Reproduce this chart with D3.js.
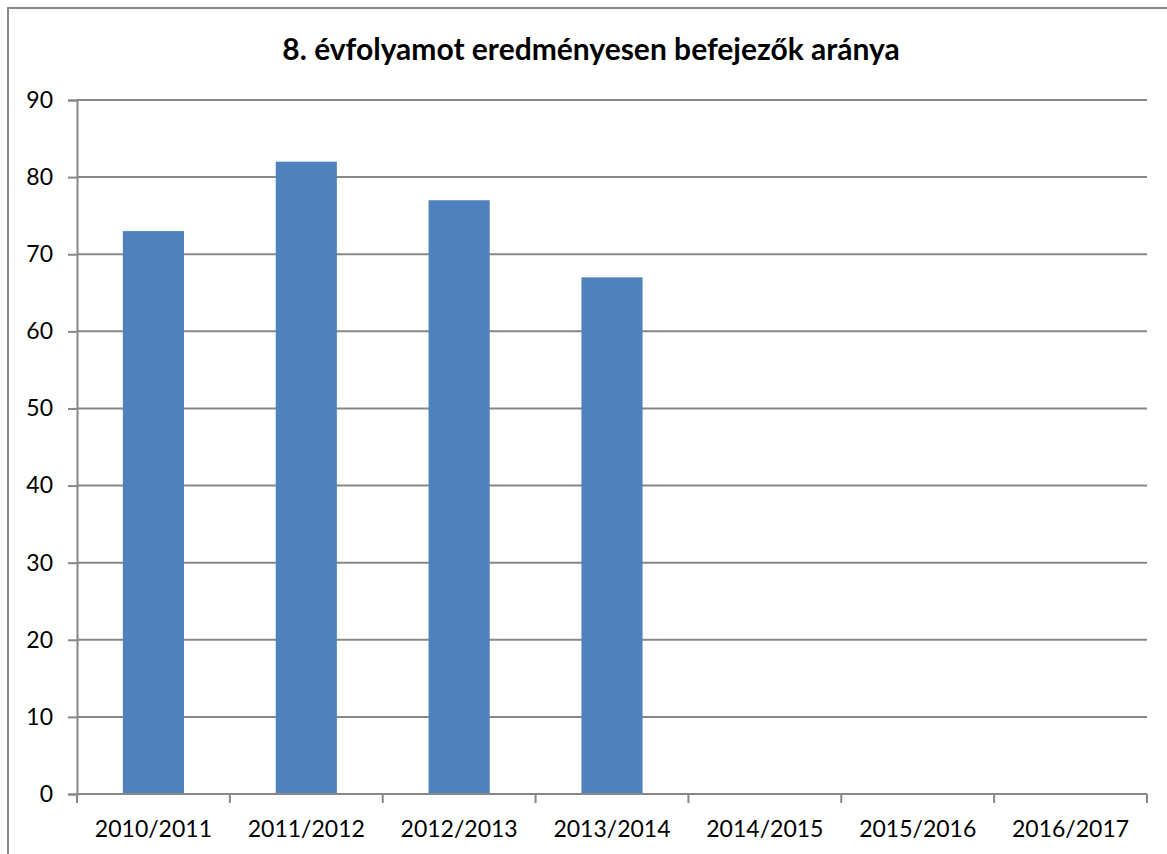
<!DOCTYPE html>
<html>
<head>
<meta charset="utf-8">
<script src="https://cdn.jsdelivr.net/npm/d3@7"></script>
<style>
  body { margin: 0; background: #fff; }
  svg { display: block; }
</style>
</head>
<body>
<svg id="chart"></svg>
<script>
var svgWidth = 1167;
var svgHeight = 854;

var chartTitle = "8. évfolyamot eredményesen befejezők aránya";
var years = ["2010/2011", "2011/2012", "2012/2013", "2013/2014", "2014/2015", "2015/2016", "2016/2017"];
var ratios = [73, 82, 77, 67, null, null, null];
var yTicks = [0, 10, 20, 30, 40, 50, 60, 70, 80, 90];

var data = years.map(function(y, i) { return { year: y, value: ratios[i] }; });

var svg = d3.select("#chart")
    .attr("width", svgWidth)
    .attr("height", svgHeight)
    .style("font-family", "Lato, sans-serif");

// outer chart frame (runs off the right and bottom of the picture)
svg.append("rect")
    .attr("x", 8)
    .attr("y", 8)
    .attr("width", 1200)
    .attr("height", 900)
    .attr("fill", "#fff")
    .attr("stroke", "#8a8a8a")
    .attr("stroke-width", 2);

var plotLeft = 77, plotRight = 1147, plotTop = 100, plotBottom = 794;

var xScale = d3.scaleBand()
    .domain(years)
    .range([plotLeft, plotRight])
    .paddingInner(0.6)
    .paddingOuter(0.3);

var yScale = d3.scaleLinear()
    .domain([0, 90])
    .range([plotBottom, plotTop]);

// gridlines
svg.append("g")
    .selectAll("line")
    .data(yTicks.filter(function(t) { return t > 0; }))
    .enter()
    .append("line")
    .attr("x1", plotLeft)
    .attr("x2", plotRight)
    .attr("y1", d => yScale(d))
    .attr("y2", d => yScale(d))
    .attr("stroke", "#878787")
    .attr("stroke-width", 2);

// bars
svg.append("g")
    .selectAll("rect")
    .data(data.filter(d => d.value != null))
    .enter()
    .append("rect")
    .attr("x", d => xScale(d.year))
    .attr("width", xScale.bandwidth())
    .attr("y", d => yScale(d.value))
    .attr("height", d => plotBottom - yScale(d.value))
    .attr("fill", "#4f81bd");

// y axis
var y_axis = d3.axisLeft(yScale)
    .tickValues(yTicks)
    .tickSize(9)
    .tickPadding(15);

var gy = svg.append("g")
    .attr("transform", "translate(" + plotLeft + ",0)")
    .call(y_axis);

gy.select(".domain")
    .attr("stroke", "#878787")
    .attr("stroke-width", 2);
gy.selectAll(".tick line")
    .attr("stroke", "#878787")
    .attr("stroke-width", 2);
gy.selectAll(".tick text")
    .attr("font-size", 23)
    .attr("font-family", "Lato, sans-serif")
    .attr("fill", "#000");

// x axis: ticks sit on category boundaries, labels in the middle
var boundaries = d3.range(years.length + 1).map(i => plotLeft + i * (plotRight - plotLeft) / years.length);

var gx = svg.append("g");
gx.append("line")
    .attr("x1", plotLeft).attr("x2", plotRight)
    .attr("y1", plotBottom).attr("y2", plotBottom)
    .attr("stroke", "#878787").attr("stroke-width", 2);
gx.selectAll(".xtick")
    .data(boundaries)
    .enter()
    .append("line")
    .attr("class", "xtick")
    .attr("x1", d => d).attr("x2", d => d)
    .attr("y1", plotBottom).attr("y2", plotBottom + 9)
    .attr("stroke", "#878787").attr("stroke-width", 2);
gx.selectAll("text")
    .data(years)
    .enter()
    .append("text")
    .attr("x", d => xScale(d) + xScale.bandwidth() / 2)
    .attr("y", 837)
    .attr("text-anchor", "middle")
    .attr("font-size", 23)
    .attr("fill", "#000")
    .text(d => d);

// title
svg.append("text")
    .attr("x", 591)
    .attr("y", 60)
    .attr("text-anchor", "middle")
    .attr("font-size", 30)
    .attr("font-weight", "bold")
    .attr("fill", "#000")
    .text(chartTitle);
</script>
</body>
</html>
